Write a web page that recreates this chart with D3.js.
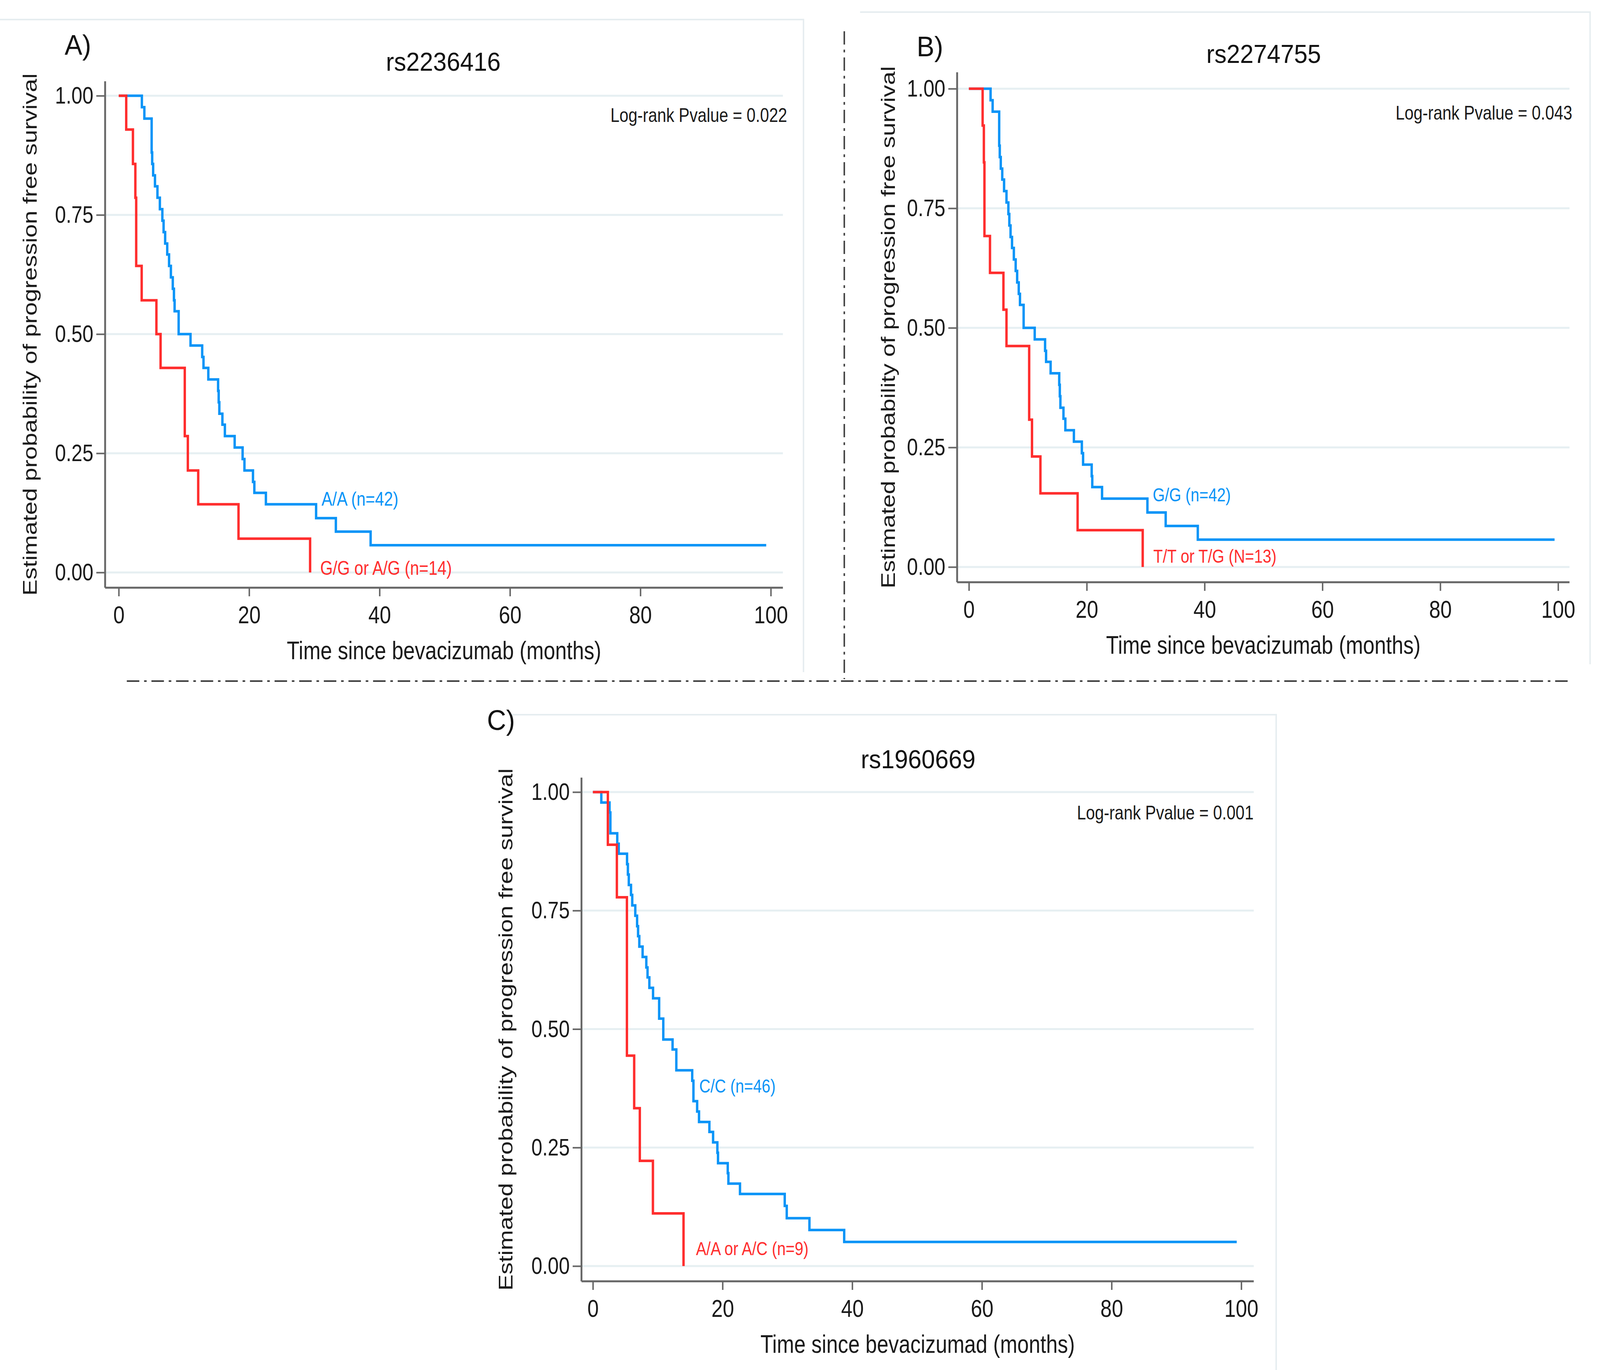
<!DOCTYPE html>
<html>
<head>
<meta charset="utf-8">
<script src="https://cdn.jsdelivr.net/npm/d3@7"></script>
<style>
html,body{margin:0;padding:0;background:#fff;overflow:hidden}
#chart{display:block;width:100vw;height:100vh}
text{font-family:"Liberation Sans",Arial,sans-serif}
</style>
</head>
<body>
<svg id="chart" viewBox="0 0 4353 3506" preserveAspectRatio="none"></svg>
<script>
// ticks shared by all three panels
var xTicks = [0, 20, 40, 60, 80, 100];
var yTicks = [0, 0.25, 0.5, 0.75, 1];

// A) rs2236416 - step times (months) and survival estimates
var aBlueT = [0, 3.55, 3.93, 5.05, 5.13, 5.28, 5.56, 5.94, 6.31, 6.69, 6.88, 7.12, 7.44, 7.72, 8.00, 8.29, 8.47, 8.57, 9.19, 11.01, 12.8, 13.0, 13.74, 15.24, 15.33, 15.43, 15.9, 16.28, 17.78, 19.0, 19.28, 20.59, 20.8, 22.57, 30.27, 33.3, 38.63, 99.3];
var aBlueS = [1, 0.976, 0.952, 0.881, 0.857, 0.833, 0.810, 0.786, 0.762, 0.738, 0.714, 0.690, 0.667, 0.643, 0.619, 0.595, 0.571, 0.548, 0.500, 0.476, 0.452, 0.429, 0.405, 0.381, 0.357, 0.333, 0.310, 0.286, 0.262, 0.238, 0.214, 0.190, 0.167, 0.143, 0.114, 0.0857, 0.0571, 0.0571];
var aRedT = [0, 1.15, 2.18, 2.55, 2.68, 3.52, 5.78, 6.42, 10.13, 10.6, 12.19, 18.37, 29.35];
var aRedS = [1, 0.929, 0.857, 0.786, 0.643, 0.571, 0.500, 0.429, 0.286, 0.214, 0.143, 0.071, 0];

// B) rs2274755
var bBlueT = [0, 3.68, 4.03, 5.14, 5.24, 5.41, 5.66, 5.97, 6.38, 6.70, 6.86, 7.07, 7.32, 7.63, 7.94, 8.19, 8.46, 8.67, 9.29, 11.17, 12.93, 13.1, 13.87, 15.33, 15.43, 15.53, 16.05, 16.37, 17.82, 19.17, 19.38, 20.84, 20.94, 22.6, 30.3, 33.4, 38.85, 99.4];
var bBlueS = [1, 0.976, 0.952, 0.881, 0.857, 0.833, 0.810, 0.786, 0.762, 0.738, 0.714, 0.690, 0.667, 0.643, 0.619, 0.595, 0.571, 0.548, 0.500, 0.476, 0.452, 0.429, 0.405, 0.381, 0.357, 0.333, 0.310, 0.286, 0.262, 0.238, 0.214, 0.190, 0.167, 0.143, 0.114, 0.0857, 0.0571, 0.0571];
var bRedT = [0, 2.33, 2.54, 2.64, 3.58, 5.86, 6.38, 10.23, 10.71, 12.14, 18.45, 29.5];
var bRedS = [1, 0.923, 0.846, 0.692, 0.615, 0.538, 0.462, 0.308, 0.231, 0.154, 0.077, 0];

// C) rs1960669
var cBlueT = [0, 1.30, 2.57, 2.70, 3.76, 3.99, 5.27, 5.40, 5.54, 5.88, 6.07, 6.54, 6.82, 6.97, 7.16, 7.67, 8.24, 8.43, 8.71, 9.28, 10.22, 10.86, 12.29, 12.87, 15.32, 15.51, 16.08, 16.37, 17.97, 18.54, 19.2, 19.3, 20.8, 20.9, 22.69, 29.59, 29.9, 33.4, 38.76, 99.3];
var cBlueS = [1, 0.978, 0.957, 0.913, 0.891, 0.870, 0.848, 0.826, 0.804, 0.783, 0.761, 0.739, 0.717, 0.696, 0.674, 0.652, 0.630, 0.609, 0.587, 0.565, 0.522, 0.478, 0.457, 0.413, 0.391, 0.348, 0.326, 0.304, 0.283, 0.261, 0.239, 0.217, 0.196, 0.174, 0.152, 0.127, 0.101, 0.076, 0.051, 0.051];
var cRedT = [0, 2.31, 3.70, 5.25, 6.37, 7.24, 9.26, 13.98];
var cRedS = [1, 0.889, 0.778, 0.444, 0.333, 0.222, 0.111, 0];

var blue = '#0a94f7', red = '#ff2d2d';
var gridCol = '#e6eff2', axisCol = '#666666';
var squish = 0.88;

var svg = d3.select('#chart');

var panels = [
	{letter: 'A)', title: 'rs2236416', pval: 'Log-rank Pvalue = 0.022', xTitle: 'Time since bevacizumab (months)',
	 blue: d3.zip(aBlueT, aBlueS), red: d3.zip(aRedT, aRedS), labSize: 50,
	 blueLab: {t: 31.1, s: 0.155, txt: 'A/A (n=42)'}, redLab: {t: 30.9, s: 0.01, txt: 'G/G or A/G (n=14)'},
	 pPos: {t: 102.5, s: 0.96},
	 f: {x0: 323, x100: 2097, y1: 245, y0: 1465, left: 286, right: 2130, top: 208, bottom: 1504,
	     letterX: 176, letterY: 140, titleX: 1206, titleY: 181, yLabOff: 186}},
	{letter: 'B)', title: 'rs2274755', pval: 'Log-rank Pvalue = 0.043', xTitle: 'Time since bevacizumab (months)',
	 blue: d3.zip(bBlueT, bBlueS), red: d3.zip(bRedT, bRedS), labSize: 48,
	 blueLab: {t: 31.2, s: 0.151, txt: 'G/G (n=42)'}, redLab: {t: 31.3, s: 0.023, txt: 'T/T or T/G (N=13)'},
	 pPos: {t: 102.4, s: 0.95},
	 f: {x0: 2636, x100: 4239, y1: 227, y0: 1451, left: 2604, right: 4270, top: 185, bottom: 1490,
	     letterX: 2494, letterY: 144, titleX: 3438, titleY: 161, yLabOff: 169}},
	{letter: 'C)', title: 'rs1960669', pval: 'Log-rank Pvalue = 0.001', xTitle: 'Time since bevacizumad (months)',
	 blue: d3.zip(cBlueT, cBlueS), red: d3.zip(cRedT, cRedS), labSize: 48,
	 blueLab: {t: 16.4, s: 0.38, txt: 'C/C (n=46)'}, redLab: {t: 15.9, s: 0.037, txt: 'A/A or A/C (n=9)'},
	 pPos: {t: 101.9, s: 0.957},
	 f: {x0: 1613, x100: 3377, y1: 2027, y0: 3240, left: 1582, right: 3411, top: 1990, bottom: 3279,
	     letterX: 1325, letterY: 1868, titleX: 2498, titleY: 1966, yLabOff: 188}}
];

// faint frames of the pasted panels
var frames = [
	[[0, 50], [2186, 50], [2186, 1720]],
	[[2340, 31], [4326, 31], [4326, 1700]],
	[[1385, 1829], [3472, 1829], [3472, 3506]]
];
svg.append('g').attr('id', 'frames')
	.selectAll('path')
	.data(frames)
	.enter()
	.append('path')
	.attr('d', d3.line())
	.attr('fill', 'none')
	.attr('stroke', '#e6edf0')
	.attr('stroke-width', 4);

// dash-dot separators
var seps = [[[2297, 80], [2297, 1738]], [[345, 1743], [4275, 1743]]];
svg.append('g').attr('id', 'separators')
	.selectAll('path')
	.data(seps)
	.enter()
	.append('path')
	.attr('d', d3.line())
	.attr('stroke', '#3d3d3d')
	.attr('stroke-width', 4)
	.attr('stroke-dasharray', '34,13,7,13');

squishText = function(g, x, y, str, size, anchor, color, sx){
	return g.append('text')
		.attr('transform', 'translate(' + x + ',' + y + ') scale(' + sx + ',1)')
		.attr('text-anchor', anchor)
		.attr('font-size', size)
		.attr('fill', color)
		.text(str);
};

drawPanel = function(p){
	var f = p.f;
	var g = svg.append('g').attr('class', 'panel');
	var x = d3.scaleLinear().domain([0, 100]).range([f.x0, f.x100]);
	var y = d3.scaleLinear().domain([0, 1]).range([f.y0, f.y1]);

	// grid lines
	g.append('g')
		.selectAll('line')
		.data(yTicks)
		.enter()
		.append('line')
		.attr('x1', f.left)
		.attr('x2', f.right)
		.attr('y1', function(d){ return y(d); })
		.attr('y2', function(d){ return y(d); })
		.attr('stroke', gridCol)
		.attr('stroke-width', 5);

	// axes
	var xa = g.append('g')
		.attr('transform', 'translate(0,' + f.bottom + ')')
		.call(d3.axisBottom(x).tickValues(xTicks).tickSize(22).tickPadding(24).tickFormat(d3.format('d')));
	var ya = g.append('g')
		.attr('transform', 'translate(' + f.left + ',0)')
		.call(d3.axisLeft(y).tickValues(yTicks).tickSize(24).tickPadding(8).tickFormat(d3.format('.2f')));
	[xa, ya].forEach(function(a){
		a.select('.domain').remove();
		a.selectAll('.tick line').attr('stroke', axisCol).attr('stroke-width', 4);
		a.selectAll('.tick text')
			.attr('fill', '#1a1a1a')
			.attr('font-family', '"Liberation Sans",Arial,sans-serif');
	});
	xa.selectAll('.tick text').attr('font-size', 63).attr('transform', 'scale(' + squish + ',1)');
	ya.selectAll('.tick text').attr('font-size', 61)
		.attr('x', -32 / squish)
		.attr('transform', 'scale(' + squish + ',1)');

	g.append('line')
		.attr('x1', f.left).attr('x2', f.left)
		.attr('y1', f.top).attr('y2', f.bottom)
		.attr('stroke', axisCol).attr('stroke-width', 5);
	g.append('line')
		.attr('x1', f.left).attr('x2', f.right)
		.attr('y1', f.bottom).attr('y2', f.bottom)
		.attr('stroke', axisCol).attr('stroke-width', 5);

	// survival curves, red drawn over blue
	var line = d3.line()
		.x(function(d){ return x(d[0]); })
		.y(function(d){ return y(d[1]); })
		.curve(d3.curveStepAfter);
	g.append('path').datum(p.blue)
		.attr('d', line).attr('fill', 'none')
		.attr('stroke', blue).attr('stroke-width', 6.5);
	g.append('path').datum(p.red)
		.attr('d', line).attr('fill', 'none')
		.attr('stroke', red).attr('stroke-width', 6.5);

	// texts
	squishText(g, x(p.blueLab.t), y(p.blueLab.s), p.blueLab.txt, p.labSize, 'start', blue, squish).attr('dy', '0.36em');
	squishText(g, x(p.redLab.t), y(p.redLab.s), p.redLab.txt, p.labSize, 'start', red, squish).attr('dy', '0.36em');
	squishText(g, x(p.pPos.t), y(p.pPos.s), p.pval, 50, 'end', '#1a1a1a', squish).attr('dy', '0.36em');
	squishText(g, (f.left + f.right) / 2, f.bottom + 183, p.xTitle, 64, 'middle', '#1a1a1a', squish);

	g.append('text')
		.attr('transform', 'translate(' + (f.left - f.yLabOff) + ',' + ((f.top + f.bottom) / 2) + ') rotate(-90) scale(1,0.86)')
		.attr('text-anchor', 'middle')
		.attr('font-size', 62)
		.attr('fill', '#1a1a1a')
		.text('Estimated probability of progression free survival');

	g.append('text')
		.attr('x', f.titleX).attr('y', f.titleY)
		.attr('text-anchor', 'middle')
		.attr('font-size', 66)
		.attr('fill', '#111')
		.text(p.title);
	g.append('text')
		.attr('x', f.letterX).attr('y', f.letterY)
		.attr('font-size', 72)
		.attr('fill', '#111')
		.text(p.letter);
};

panels.forEach(drawPanel);
</script>
</body>
</html>
